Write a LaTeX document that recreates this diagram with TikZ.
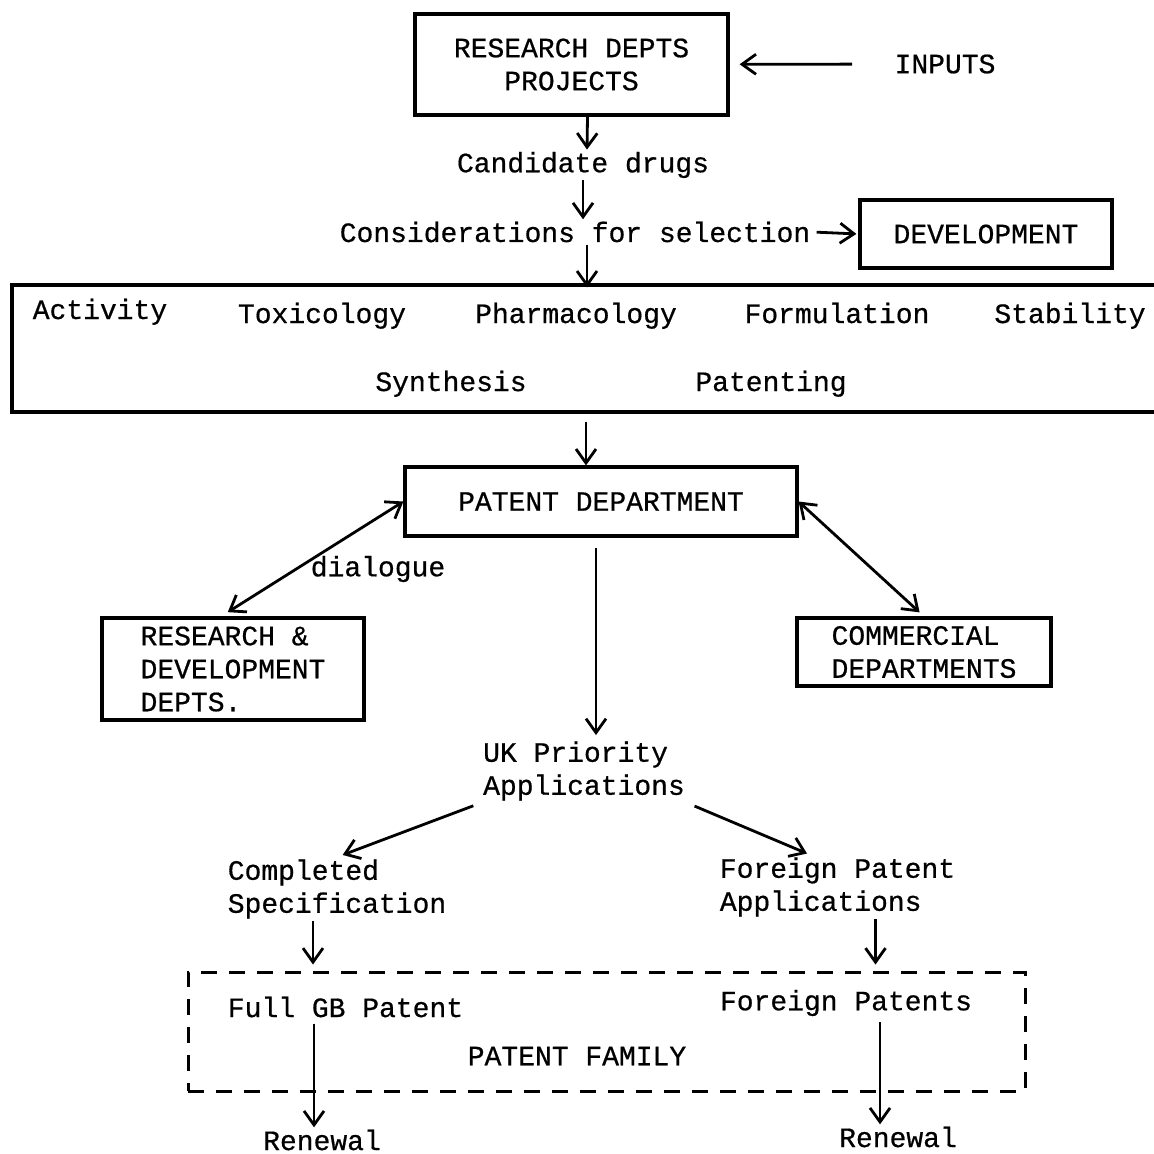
\documentclass[tikz,border=0pt]{standalone}
\usepackage{fontspec}
\setmainfont{Liberation Mono}[FakeBold=0.6]
\usepackage{tikz}
\usetikzlibrary{shapes,arrows.meta,positioning}
\tikzstyle{arrow} = [line width=1.4pt,-{Straight Barb[length=7pt,width=10pt]}]
\tikzstyle{dblarrow} = [line width=1.4pt,{Straight Barb[length=7pt,width=10pt]}-{Straight Barb[length=7pt,width=10pt]}]

\begin{document}
\begin{tikzpicture}[x=0.5pt,y=-0.5pt]
    \tikzstyle{box}=[draw, rectangle, line width=1.6pt, align=center, font=\fontsize{14}{16.5}\selectfont]
    \tikzstyle{txt}=[inner sep=1pt, align=left, font=\fontsize{14}{16.5}\selectfont]
    \tikzstyle{row}=[txt, anchor=base]
    \tikzstyle{familybox}=[draw, rectangle, line width=1.5pt, dash pattern=on 8pt off 6pt]

    \useasboundingbox (0,0) rectangle (1154,1153);

    \node[box, minimum width=156.5pt, minimum height=50.5pt] (research) at (571.5,64.5) {RESEARCH DEPTS\\PROJECTS};
    \node[txt] (inputs) at (945,64) {INPUTS};
    \node[txt] (candidate) at (583,165) {Candidate drugs};
    \node[txt] (consider) at (575,232) {Considerations for selection};
    \node[box, minimum width=126pt, minimum height=34pt] (development) at (986,234) {DEVELOPMENT};

    \node[box, minimum width=574pt, minimum height=63.5pt] (factors) at (586,348.5) {};
    \node[row] (activity) at (100,319) {Activity};
    \node[row] (toxicology) at (322,323) {Toxicology};
    \node[row] (pharmacology) at (576,323) {Pharmacology};
    \node[row] (formulation) at (837,323) {Formulation};
    \node[row] (stability) at (1070,323) {Stability};
    \node[row] (synthesis) at (451,391) {Synthesis};
    \node[row] (patenting) at (771,391) {Patenting};

    \node[box, minimum width=196pt, minimum height=34.5pt] (patentdept) at (601,501.5) {PATENT DEPARTMENT};
    \node[box, align=left, minimum width=131pt, minimum height=51pt] (rnd) at (233,669) {RESEARCH \&\\DEVELOPMENT\\DEPTS.};
    \node[box, align=left, minimum width=127pt, minimum height=34pt] (commercial) at (924,652) {COMMERCIAL\\DEPARTMENTS};
    \node[txt] (dialogue) at (378,569) {dialogue};

    \node[txt] (ukprio) at (584,771) {UK Priority\\Applications};
    \node[txt] (completed) at (337,889) {Completed\\Specification};
    \node[txt] (foreignapp) at (837.5,887) {Foreign Patent\\Applications};

    \node[familybox, minimum width=418.5pt, minimum height=59.5pt] (family) at (606.5,1031.5) {};
    \node[txt] (fullgb) at (345.5,1007) {Full GB Patent};
    \node[txt] (foreignpat) at (846,1003) {Foreign Patents};
    \node[txt] (familylabel) at (577,1056) {PATENT FAMILY};
    \node[txt] (renewal1) at (322,1140) {Renewal};
    \node[txt] (renewal2) at (898,1137) {Renewal};

    \draw[arrow, shorten <=20pt, shorten >=5pt] (inputs) -- (research);
    \draw[arrow] ([xshift=8pt]research.south) -- ([xshift=2pt]candidate.north);
    \draw[arrow] (candidate.south) -- (candidate.south |- consider.north);
    \draw[arrow, shorten <=2pt, shorten >=1pt] (consider.east) -- (development.west);
    \draw[arrow] ([xshift=6pt]consider.south) -- ([xshift=6pt,yshift=-2pt]consider.south |- factors.north);
    \draw[arrow, shorten <=4pt] (factors.south) -- (factors.south |- patentdept.north);
    \draw[dblarrow, shorten >=4pt] (patentdept.west) -- ([xshift=-6pt]rnd.north);
    \draw[dblarrow, shorten >=3pt] (patentdept.east) -- (commercial.north);
    \draw[arrow, shorten <=5pt, shorten >=2pt] ([xshift=6pt]ukprio.north |- patentdept.south) -- ([xshift=6pt]ukprio.north);
    \draw[arrow, shorten <=4pt, shorten >=3pt] (ukprio.south west) -- (completed.north);
    \draw[arrow, shorten <=4pt, shorten >=2pt] (ukprio.south east) -- (foreignapp.130);
    \draw[arrow] ([xshift=-12pt]completed.south) -- ([xshift=-12pt,yshift=3pt]completed.south |- family.north);
    \draw[arrow] ([xshift=19pt]foreignapp.south) -- ([xshift=19pt,yshift=3pt]foreignapp.south |- family.north);
    \draw[arrow, shorten <=2pt] ([xshift=-4pt]renewal1.north |- fullgb.south) -- ([xshift=-4pt]renewal1.north);
    \draw[arrow, shorten <=2pt] ([xshift=-9pt]renewal2.north |- foreignpat.south) -- ([xshift=-9pt]renewal2.north);
\end{tikzpicture}
\end{document}
